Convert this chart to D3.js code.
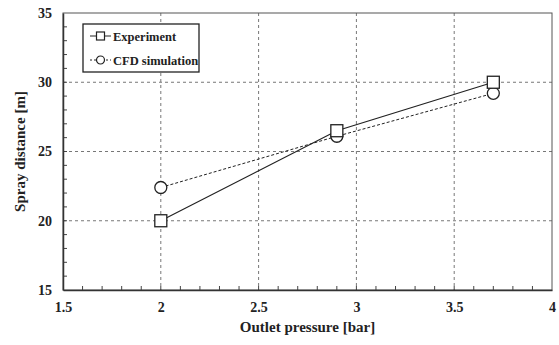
<!DOCTYPE html>
<html>
<head>
<meta charset="utf-8">
<script src="https://cdn.jsdelivr.net/npm/d3@7"></script>
<style>
  body { margin: 0; background: #fff; }
  text { font-family: "Liberation Serif", "Times New Roman", serif; font-weight: bold; }
</style>
</head>
<body>
<svg class="chart"></svg>
<script>
const pressure = [2.0, 2.9, 3.7];
const experiment = [20.0, 26.5, 30.0];
const cfd = [22.4, 26.1, 29.2];
const xTicks = [1.5, 2, 2.5, 3, 3.5, 4];
const yTicks = [15, 20, 25, 30, 35];

const svgWidth = 559;
const svgHeight = 345;
const margin = {top: 13, right: 7, bottom: 55, left: 63};
const width = svgWidth - margin.left - margin.right;
const height = svgHeight - margin.top - margin.bottom;

const svg = d3.select('.chart')
    .attr('width', svgWidth)
    .attr('height', svgHeight);
const g = svg.append('g')
    .attr('transform', `translate(${margin.left}, ${margin.top})`);

const x = d3.scaleLinear().domain([1.5, 4]).range([0, width]);
const y = d3.scaleLinear().domain([15, 35]).range([height, 0]);

// grid
g.append('g').selectAll('line')
    .data(xTicks.slice(1, -1))
    .join('line')
    .attr('x1', d => x(d)).attr('x2', d => x(d))
    .attr('y1', 0).attr('y2', height)
    .attr('stroke', '#777').attr('stroke-dasharray', '3,3');
g.append('g').selectAll('line')
    .data(yTicks.slice(1, -1))
    .join('line')
    .attr('y1', d => y(d)).attr('y2', d => y(d))
    .attr('x1', 0).attr('x2', width)
    .attr('stroke', '#777').attr('stroke-dasharray', '3,3');

// frame
g.append('rect')
    .attr('width', width).attr('height', height)
    .attr('fill', 'none').attr('stroke', '#555');

// minor ticks (inward)
const xMinor = d3.range(16, 40).map(d => d / 10);
const yMinor = d3.range(16, 35);
g.append('g').selectAll('line')
    .data(xMinor)
    .join('line')
    .attr('x1', d => x(d)).attr('x2', d => x(d))
    .attr('y1', height).attr('y2', height - 4)
    .attr('stroke', '#444');
g.append('g').selectAll('line')
    .data(yMinor)
    .join('line')
    .attr('y1', d => y(d)).attr('y2', d => y(d))
    .attr('x1', 0).attr('x2', 4)
    .attr('stroke', '#444');

// axes
const xAxis = g.append('g')
    .attr('transform', `translate(0, ${height})`)
    .call(d3.axisBottom(x).tickValues(xTicks).tickSize(0).tickPadding(12).tickFormat(d3.format('')));
xAxis.select('.domain').attr('stroke', '#333').attr('stroke-width', 1.5);
xAxis.selectAll('text').attr('font-size', 14).attr('fill', '#222')
    .style('font-family', '"Liberation Serif", serif').style('font-weight', 'bold');

const yAxis = g.append('g')
    .call(d3.axisLeft(y).tickValues(yTicks).tickSize(0).tickPadding(11));
yAxis.select('.domain').attr('stroke', '#333').attr('stroke-width', 1.5);
yAxis.selectAll('text').attr('font-size', 14).attr('fill', '#222')
    .style('font-family', '"Liberation Serif", serif').style('font-weight', 'bold');

// axis titles
svg.append('text')
    .attr('x', margin.left + width / 2).attr('y', 332)
    .attr('text-anchor', 'middle').attr('font-size', 15).attr('fill', '#222')
    .text('Outlet pressure [bar]');
svg.append('text')
    .attr('transform', `translate(25, ${margin.top + height / 2}) rotate(-90)`)
    .attr('text-anchor', 'middle').attr('font-size', 15).attr('fill', '#222')
    .text('Spray distance [m]');

// series
const expData = pressure.map((p, i) => ({p, v: experiment[i]}));
const cfdData = pressure.map((p, i) => ({p, v: cfd[i]}));
const line = d3.line().x(d => x(d.p)).y(d => y(d.v));

g.append('path').datum(cfdData)
    .attr('fill', 'none').attr('stroke', '#222').attr('stroke-width', 1)
    .attr('stroke-dasharray', '3,2').attr('d', line);
g.append('path').datum(expData)
    .attr('fill', 'none').attr('stroke', '#222').attr('stroke-width', 1.2)
    .attr('d', line);

g.append('g').selectAll('circle')
    .data(cfdData)
    .join('circle')
    .attr('cx', d => x(d.p)).attr('cy', d => y(d.v)).attr('r', 6)
    .attr('fill', '#fff').attr('stroke', '#222').attr('stroke-width', 1.3);
g.append('g').selectAll('rect')
    .data(expData)
    .join('rect')
    .attr('x', d => x(d.p) - 6).attr('y', d => y(d.v) - 6)
    .attr('width', 12).attr('height', 12)
    .attr('fill', '#fff').attr('stroke', '#222').attr('stroke-width', 1.3);

// legend
const lg = svg.append('g').attr('transform', 'translate(83, 24)');
lg.append('rect').attr('width', 116).attr('height', 48)
    .attr('fill', '#fff').attr('stroke', '#222').attr('stroke-width', 1.3);
const items = [
    {name: 'Experiment', dash: null, shape: 'square'},
    {name: 'CFD simulation', dash: '2,2', shape: 'circle'}
];
items.forEach((it, i) => {
    const row = lg.append('g').attr('transform', `translate(7, ${12 + i * 24})`);
    row.append('line').attr('x1', 0).attr('x2', 21).attr('y1', 0).attr('y2', 0)
        .attr('stroke', '#222').attr('stroke-dasharray', it.dash);
    if (it.shape === 'square') {
        row.append('rect').attr('x', 6.5).attr('y', -4).attr('width', 8).attr('height', 8)
            .attr('fill', '#fff').attr('stroke', '#222').attr('stroke-width', 1.2);
    } else {
        row.append('circle').attr('cx', 10.5).attr('cy', 0).attr('r', 4)
            .attr('fill', '#fff').attr('stroke', '#222').attr('stroke-width', 1.2);
    }
    row.append('text').attr('x', 23).attr('y', 4.5)
        .attr('font-size', 12.5).attr('fill', '#222').text(it.name);
});
</script>
</body>
</html>
